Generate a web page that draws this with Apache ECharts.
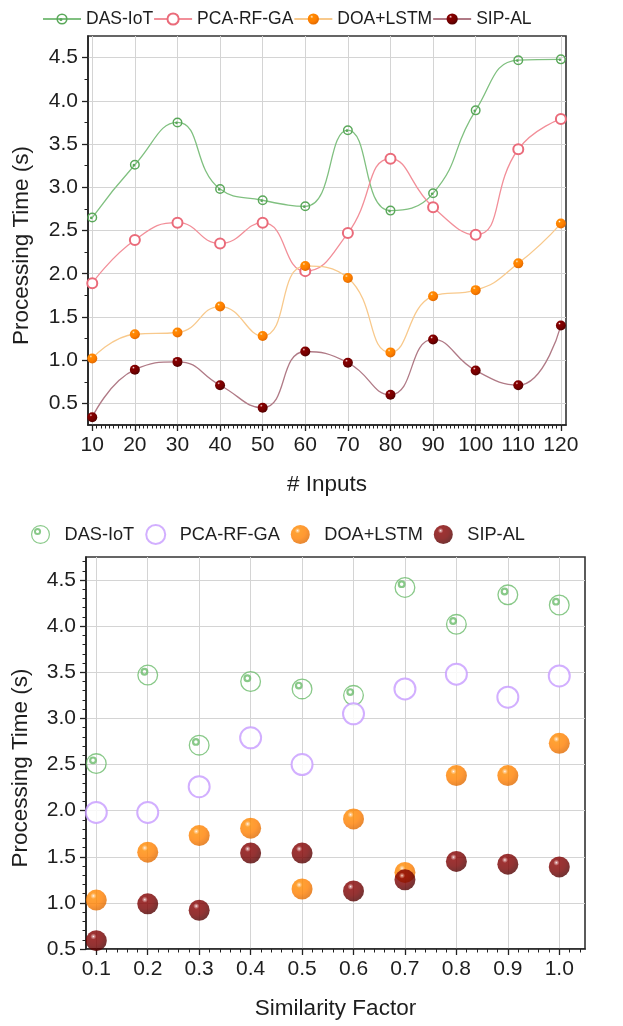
<!DOCTYPE html>
<html><head><meta charset="utf-8">
<script src="https://cdn.jsdelivr.net/npm/echarts@6/dist/echarts.min.js"></script>
<style>html,body{margin:0;padding:0;background:#fff}#c{width:623px;height:1026px}</style>
</head><body><div id="c"></div>
<script>
// ---------- data ----------
const seriesNames = ['DAS-IoT', 'PCA-RF-GA', 'DOA+LSTM', 'SIP-AL'];

const inputs  = [10, 20, 30, 40, 50, 60, 70, 80, 90, 100, 110, 120];
const lineDAS = [2.65, 3.26, 3.75, 2.98, 2.85, 2.78, 3.66, 2.73, 2.93, 3.89, 4.47, 4.48];
const linePCA = [1.89, 2.39, 2.59, 2.35, 2.59, 2.03, 2.47, 3.33, 2.77, 2.45, 3.44, 3.79];
const lineDOA = [1.02, 1.30, 1.32, 1.62, 1.28, 2.09, 1.95, 1.09, 1.74, 1.81, 2.12, 2.58];
const lineSIP = [0.34, 0.89, 0.98, 0.71, 0.45, 1.10, 0.97, 0.60, 1.24, 0.88, 0.71, 1.40];

const simFactors = [0.1, 0.2, 0.3, 0.4, 0.5, 0.6, 0.7, 0.8, 0.9, 1.0];
const scatDAS = [2.51, 3.47, 2.71, 3.40, 3.32, 3.25, 4.42, 4.02, 4.34, 4.23];
const scatPCA = [1.98, 1.98, 2.26, 2.79, 2.50, 3.05, 3.32, 3.48, 3.23, 3.46];
const scatDOA = [1.03, 1.55, 1.73, 1.81, 1.15, 1.91, 1.33, 2.38, 2.38, 2.73];
const scatSIP = [0.59, 0.99, 0.92, 1.54, 1.54, 1.13, 1.25, 1.45, 1.42, 1.39];

const topXTicks = [10, 20, 30, 40, 50, 60, 70, 80, 90, 100, 110, 120];
const topYTicks = [0.5, 1.0, 1.5, 2.0, 2.5, 3.0, 3.5, 4.0, 4.5];
const botXTicks = [0.1, 0.2, 0.3, 0.4, 0.5, 0.6, 0.7, 0.8, 0.9, 1.0];
const botYTicks = [0.5, 1.0, 1.5, 2.0, 2.5, 3.0, 3.5, 4.0, 4.5];

// ---------- helpers ----------
const FONT = 'Liberation Sans, Arial, Helvetica, sans-serif';
const TXT = '#1e1e1e';

function minorTicks(lo, hi, step) {
  const out = [];
  const n = Math.round((hi - lo) / step);
  for (let i = 1; i < n; i++) out.push(+(lo + i * step).toFixed(4));
  return out;
}
function without(list, majors) {
  return list.filter(v => !majors.some(m => Math.abs(m - v) < 1e-6));
}

const ringTop = 'path://M98,50A48,48,0,1,0,2,50A48,48,0,1,0,98,50Z M84,50A34,34,0,1,1,16,50A34,34,0,1,1,84,50Z M54,54A13,13,0,1,0,28,54A13,13,0,1,0,54,54Z';
const ringBot = 'path://M98,50A48,48,0,1,0,2,50A48,48,0,1,0,98,50Z M92,50A42,42,0,1,1,8,50A42,42,0,1,1,92,50Z M53,35A18,18,0,1,0,17,35A18,18,0,1,0,53,35Z M43,35A8,8,0,1,1,27,35A8,8,0,1,1,43,35Z';

function ball(hl, light, mid, dark) {
  return new echarts.graphic.RadialGradient(0.36, 0.3, 0.72, [
    { offset: 0, color: '#ffffff' },
    { offset: 0.06, color: hl },
    { offset: 0.2, color: light },
    { offset: 0.6, color: mid },
    { offset: 1, color: dark }
  ]);
}
const orangeBall = ball('#ffc98a', '#ff8a00', '#ff7f00', '#e06a00');
const redBall = ball('#d08888', '#860000', '#780000', '#500000');

function mainAxis(kind, gridIndex, min, max, ticks, name, nameGap, fmt) {
  const isX = kind === 'x';
  return {
    type: 'value', gridIndex, min, max,
    position: isX ? 'bottom' : 'left',
    name, nameLocation: 'middle', nameGap,
    nameTextStyle: { fontSize: 22.5, color: TXT, fontFamily: FONT, padding: isX ? 0 : [0, 30, 0, 0] },
    axisLine: { show: true, onZero: false, lineStyle: { color: '#222', width: 1.6 } },
    axisTick: { show: true, inside: false, length: 6, customValues: ticks, lineStyle: { color: '#222', width: 1.3 } },
    minorTick: { show: false },
    axisLabel: { show: true, customValues: ticks, formatter: fmt, fontSize: 21, color: TXT, fontFamily: FONT, margin: 10 },
    splitLine: { show: true, lineStyle: { color: '#d4d4d4', width: 1 } }
  };
}
function minorAxis(kind, gridIndex, min, max, vals) {
  const isX = kind === 'x';
  return {
    type: 'value', gridIndex, min, max,
    position: isX ? 'bottom' : 'left',
    axisLine: { show: false, onZero: false },
    axisTick: { show: true, inside: false, length: 3.5, customValues: vals, lineStyle: { color: '#222', width: 1 } },
    axisLabel: { show: false },
    splitLine: { show: false },
    minorTick: { show: false }
  };
}

const f1 = v => (+v).toFixed(1);
const f0 = v => String(Math.round(v));

const topXMinor = without(minorTicks(9, 121, 1), topXTicks);
const topYMinor = without(minorTicks(0.25, 4.75, 0.25), topYTicks);
const botXMinor = without(minorTicks(0.08, 1.06, 0.02), botXTicks).filter(v => v < 1.05);
const botYMinor = without(minorTicks(0.5, 4.8, 0.1), botYTicks).filter(v => v < 4.75);

const pairs = (xs, ys) => xs.map((x, i) => [x, ys[i]]);

const lineStyles = [
  { line: '#80c080', symbol: ringTop, item: { color: '#5aa85a' } },
  { line: '#f28f99', symbol: 'emptyCircle', item: { color: '#ea6b7a', borderWidth: 1.3 } },
  { line: '#f8c98c', symbol: 'circle', item: { color: orangeBall } },
  { line: '#b07a86', symbol: 'circle', item: { color: redBall } }
];
const lineData = [lineDAS, linePCA, lineDOA, lineSIP];

const topSeries = seriesNames.map((n, i) => ({
  type: 'line', name: n, xAxisIndex: 0, yAxisIndex: 0,
  data: pairs(inputs, lineData[i]),
  smooth: 0.5,
  symbol: lineStyles[i].symbol, symbolSize: 10, showSymbol: true,
  lineStyle: { color: lineStyles[i].line, width: 1.3 },
  itemStyle: lineStyles[i].item,
  z: 3 + i
}));

const scatStyles = [
  { symbol: ringBot, item: { color: '#6cbb6c' } },
  { symbol: 'emptyCircle', item: { color: '#c79bff', borderWidth: 1.3 } },
  { symbol: 'circle', item: { color: orangeBall } },
  { symbol: 'circle', item: { color: redBall } }
];
const scatData = [scatDAS, scatPCA, scatDOA, scatSIP];

const botSeries = seriesNames.map((n, i) => ({
  type: 'scatter', name: n + ' ', xAxisIndex: 2, yAxisIndex: 2,
  data: pairs(simFactors, scatData[i]),
  symbol: scatStyles[i].symbol, symbolSize: 21,
  itemStyle: scatStyles[i].item,
  z: 3 + i
}));

const option = {
  animation: false,
  backgroundColor: '#fff',
  textStyle: { fontFamily: FONT },
  legend: [
    {
      data: seriesNames, left: 37, top: 5, orient: 'horizontal',
      itemWidth: 38, itemHeight: 14, itemGap: 0,
      textStyle: { fontSize: 17.5, color: TXT, fontFamily: FONT },
      selectedMode: false
    },
    {
      data: seriesNames.map(n => n + ' '), left: 26, top: 519, orient: 'horizontal',
      itemWidth: 38, itemHeight: 19, itemGap: 11,
      formatter: n => n.trim(),
      textStyle: { fontSize: 18.2, color: TXT, fontFamily: FONT },
      selectedMode: false
    }
  ],
  grid: [
    { left: 88, top: 36, width: 478, height: 389, show: true, borderColor: '#333', borderWidth: 1.6, containLabel: false },
    { left: 86, top: 557, width: 499, height: 392, show: true, borderColor: '#333', borderWidth: 1.6, containLabel: false }
  ],
  xAxis: [
    mainAxis('x', 0, 9, 121.2, topXTicks, '# Inputs', 48, f0),
    minorAxis('x', 0, 9, 121.2, topXMinor),
    mainAxis('x', 1, 0.08, 1.05, botXTicks, 'Similarity Factor', 48, f1),
    minorAxis('x', 1, 0.08, 1.05, botXMinor)
  ],
  yAxis: [
    mainAxis('y', 0, 0.25, 4.75, topYTicks, 'Processing Time (s)', 55, f1),
    minorAxis('y', 0, 0.25, 4.75, topYMinor),
    mainAxis('y', 1, 0.5, 4.75, botYTicks, 'Processing Time (s)', 54, f1),
    minorAxis('y', 1, 0.5, 4.75, botYMinor)
  ],
  series: topSeries.concat(botSeries)
};

const chart = echarts.init(document.getElementById('c'), null, { renderer: 'canvas' });
chart.setOption(option);
</script>
</body></html>
